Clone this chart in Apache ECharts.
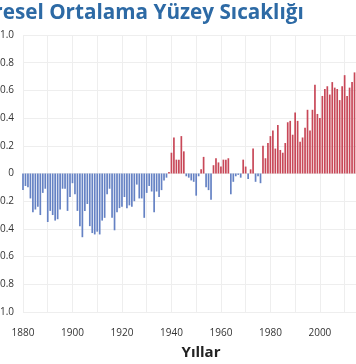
<!DOCTYPE html>
<html><head><meta charset="utf-8">
<script src="https://cdn.jsdelivr.net/npm/echarts@6/dist/echarts.min.js"></script>
<style>html,body{margin:0;padding:0;background:#fff}#c{width:356px;height:364px}</style>
</head><body><div id="c"></div>
<script>
const titleText = "Küresel Ortalama Yüzey Sıcaklığı";
const xAxisTitle = "Yıllar";
const startYear = 1880;
const anomalies = [
  -0.12, -0.09, -0.10, -0.18, -0.28, -0.26, -0.24, -0.30, -0.14, -0.11,
  -0.35, -0.27, -0.30, -0.34, -0.33, -0.26, -0.11, -0.11, -0.27, -0.17,
  -0.07, -0.15, -0.27, -0.38, -0.46, -0.27, -0.22, -0.38, -0.43, -0.44,
  -0.42, -0.44, -0.34, -0.32, -0.15, -0.11, -0.32, -0.41, -0.28, -0.25,
  -0.24, -0.17, -0.25, -0.23, -0.24, -0.20, -0.08, -0.18, -0.18, -0.32,
  -0.14, -0.09, -0.13, -0.28, -0.13, -0.17, -0.12, -0.05, -0.03, 0.01,
  0.15, 0.26, 0.10, 0.10, 0.27, 0.16, -0.02, -0.03, -0.05, -0.06,
  -0.16, -0.02, 0.03, 0.12, -0.10, -0.12, -0.19, 0.06, 0.11, 0.08,
  0.05, 0.10, 0.10, 0.11, -0.15, -0.06, -0.02, -0.01, -0.03, 0.10,
  0.05, -0.04, 0.03, 0.18, -0.06, -0.02, -0.07, 0.20, 0.11, 0.22,
  0.27, 0.31, 0.18, 0.35, 0.17, 0.15, 0.22, 0.37, 0.38, 0.28,
  0.44, 0.38, 0.23, 0.26, 0.33, 0.46, 0.31, 0.46, 0.64, 0.43,
  0.40, 0.56, 0.61, 0.63, 0.57, 0.66, 0.62, 0.61, 0.53, 0.63,
  0.71, 0.56, 0.62, 0.66, 0.73
];
const years = anomalies.map((v, i) => startYear + i);
const yTicks = [-1.0, -0.8, -0.6, -0.4, -0.2, 0, 0.2, 0.4, 0.6, 0.8, 1.0];
const xLabelYears = [1880, 1900, 1920, 1940, 1960, 1980, 2000];

const chart = echarts.init(document.getElementById('c'), null, {renderer: 'canvas'});
chart.setOption({
  animation: false,
  backgroundColor: '#ffffff',
  title: {text: titleText, left: -39, top: -2,
     textStyle: {fontFamily: 'Open Sans', fontWeight: 'bold', fontSize: 20.7, color: '#2d6aa5'}},
  graphic: [{
    type: 'text', x: 201, y: 353,
    style: {text: xAxisTitle, fontFamily: 'Open Sans', fontWeight: 'bold', fontSize: 15,
            fill: '#222', textAlign: 'center', textVerticalAlign: 'middle'}
  }],
  grid: {left: 23, right: -1, top: 35, bottom: 52, containLabel: false, outerBoundsMode: 'none'},
  xAxis: {
    type: 'value', min: 1880, max: 2015, interval: 10,
    axisLine: {show: false}, axisTick: {show: false},
    splitLine: {show: true, lineStyle: {color: '#eeeeee', width: 1}},
    axisLabel: {
      margin: 16, fontFamily: 'Open Sans', fontSize: 10, color: '#333',
      formatter: v => xLabelYears.includes(v) ? String(v) : ''
    }
  },
  yAxis: {
    type: 'value', min: -1, max: 1, interval: 0.2,
    axisLine: {show: false}, axisTick: {show: false},
    splitLine: {show: true, lineStyle: {color: '#eeeeee', width: 1}},
    axisLabel: {
      margin: 9, fontFamily: 'Open Sans', fontSize: 10, color: '#333',
      formatter: v => {
        const t = yTicks.find(k => Math.abs(k - v) < 1e-6);
        if (t === undefined) return '';
        return Math.abs(t) < 1e-6 ? '0' : t.toFixed(1);
      }
    }
  },
  series: [{
    type: 'bar',
    barWidth: 1.7,
    data: years.map((y, i) => [y, anomalies[i]]),
    itemStyle: {
      color: p => p.value[1] >= 0 ? '#c84858' : '#6582c4'
    }
  }]
});
</script></body></html>
